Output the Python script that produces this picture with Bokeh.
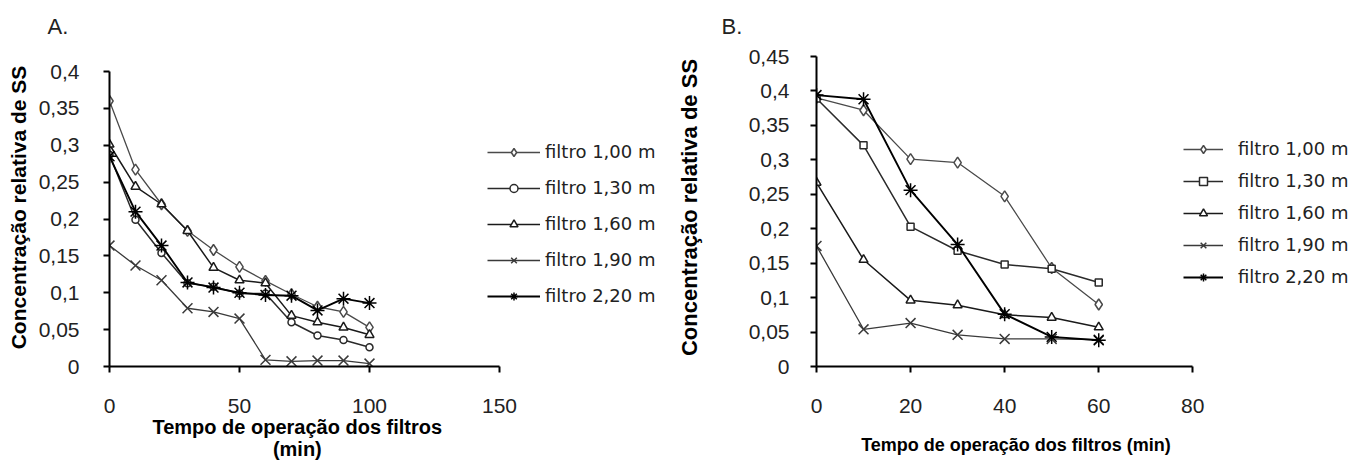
from bokeh.plotting import figure
from bokeh.layouts import row
from bokeh.models import Range1d, FixedTicker, Legend, LegendItem
from bokeh.embed import file_html
from bokeh.resources import INLINE

# ---------------- data ----------------
SERIES_NAMES = ["filtro 1,00 m", "filtro 1,30 m", "filtro 1,60 m", "filtro 1,90 m", "filtro 2,20 m"]

# Chart A
T_A = [0, 10, 20, 30, 40, 50, 60, 70, 80, 90, 100]
A_100 = [0.360, 0.267, 0.220, 0.184, 0.158, 0.135, 0.116, 0.098, 0.081, 0.074, 0.053]
A_130 = [0.287, 0.199, 0.154, 0.113, 0.108, 0.099, 0.099, 0.060, 0.042, 0.036, 0.026]
A_160 = [0.301, 0.244, 0.220, 0.184, 0.134, 0.117, 0.113, 0.069, 0.060, 0.053, 0.043]
A_190 = [0.164, 0.137, 0.117, 0.079, 0.074, 0.065, 0.009, 0.007, 0.008, 0.008, 0.004]
A_220 = [0.285, 0.210, 0.164, 0.114, 0.107, 0.100, 0.097, 0.096, 0.076, 0.092, 0.086]

# Chart B
T_B = [0, 10, 20, 30, 40, 50, 60]
B_100 = [0.390, 0.372, 0.301, 0.296, 0.247, 0.143, 0.090]
B_130 = [0.389, 0.321, 0.203, 0.168, 0.148, 0.142, 0.122]
B_160 = [0.267, 0.155, 0.096, 0.089, 0.075, 0.071, 0.057]
B_190 = [0.175, 0.054, 0.063, 0.046, 0.040, 0.040, 0.039]
B_220 = [0.394, 0.388, 0.256, 0.177, 0.076, 0.043, 0.038]

X_TICKS_A = [0, 50, 100, 150]
Y_TICKS_A = [0, 0.05, 0.1, 0.15, 0.2, 0.25, 0.3, 0.35, 0.4]
Y_LABELS_A = ["0", "0,05", "0,1", "0,15", "0,2", "0,25", "0,3", "0,35", "0,4"]
X_TICKS_B = [0, 20, 40, 60, 80]
Y_TICKS_B = [0, 0.05, 0.1, 0.15, 0.2, 0.25, 0.3, 0.35, 0.4, 0.45]
Y_LABELS_B = ["0", "0,05", "0,1", "0,15", "0,2", "0,25", "0,3", "0,35", "0,4", "0,45"]

TITLE_A = "A."
TITLE_B = "B."
Y_TITLE = "Concentração relativa de SS"
X_TITLE_A = ["Tempo de operação dos filtros", "(min)"]
X_TITLE_B = ["Tempo de operação dos filtros (min)"]

# ---------------- styles ----------------
STYLES = [
    dict(marker="diamond", size=11, fill="white", color="#4a4a4a", lw=1.3),
    dict(marker="square", size=7, fill="white", color="#2a2a2a", lw=1.5),
    dict(marker="triangle", size=9, fill="white", color="#1a1a1a", lw=1.5),
    dict(marker="x", size=14, fill="white", color="#3a3a3a", lw=1.3),
    dict(marker="asterisk", size=14, fill="black", color="#000000", lw=1.9),
]

FONT = "Liberation Sans"
LEG_FONT = "DejaVu Sans"
FIG_H = 462
FRAME_TOP = 48
FRAME_BOTTOM = 366
RIGHT_BORDER = 5
NBSP = "\u00a0"


def make_fig(fig_w, t, series, x_axis_end, y_axis_end, axis_px_x, axis_top_px,
             xticks, yticks, ylabels, title, xtitle_lines,
             frame_left, title_offset, legend_loc, legend_spacing, glyph_w,
             label_standoff, marker_variant, xlabel_standoff, ylabel_standoff,
             ytick_standoff, xtitle_size, ytitle_size, xtitle_center):
    frame_w = fig_w - frame_left - RIGHT_BORDER
    frame_h = FRAME_BOTTOM - FRAME_TOP
    # frame is larger than the drawn axes so that the legend can sit beside the data
    x_end = x_axis_end * frame_w / axis_px_x
    y_end = y_axis_end * frame_h / (FRAME_BOTTOM - axis_top_px)
    p = figure(width=fig_w, height=FIG_H, x_range=Range1d(0, x_end), y_range=Range1d(0, y_end),
               output_backend="svg", toolbar_location=None,
               min_border_left=frame_left, min_border_right=RIGHT_BORDER,
               min_border_top=FRAME_TOP, min_border_bottom=FIG_H - FRAME_BOTTOM)
    p.outline_line_color = None
    p.xgrid.visible = False
    p.ygrid.visible = False
    p.background_fill_color = "white"
    p.border_fill_color = "white"

    p.title.text = title
    p.title.align = "left"
    p.title.offset = title_offset
    p.title.text_font = FONT
    p.title.text_font_size = "22px"
    p.title.text_font_style = "normal"
    p.title.text_color = "#222222"
    p.title.standoff = 20

    for ax in (p.xaxis[0], p.yaxis[0]):
        ax.axis_line_color = "black"
        ax.axis_line_width = 2
        ax.major_tick_line_color = "black"
        ax.major_tick_line_width = 2
        ax.major_tick_out = 6
        ax.major_tick_in = 0
        ax.minor_tick_line_color = None
        ax.major_label_text_font = FONT
        ax.major_label_text_font_size = "21px"
        ax.major_label_text_color = "#222222"
        ax.axis_label_text_font = FONT
        ax.axis_label_text_font_style = "bold"
        ax.axis_label_text_color = "black"
        ax.axis_label_text_line_height = 1.0

    p.xaxis[0].bounds = (0, x_axis_end)
    p.yaxis[0].bounds = (0, y_axis_end)
    p.xaxis[0].ticker = FixedTicker(ticks=xticks)
    p.yaxis[0].ticker = FixedTicker(ticks=yticks)
    p.yaxis[0].major_label_overrides = {v: s for v, s in zip(yticks, ylabels)}
    p.xaxis[0].major_label_standoff = 26
    p.yaxis[0].major_label_standoff = ytick_standoff

    # x title: centred under the drawn axis (not the wider frame) by trailing no-break spaces
    nb_w = 0.278 * xtitle_size
    frame_center = frame_left + frame_w / 2
    shift = frame_center - xtitle_center
    pad = NBSP * int(round(2 * shift / nb_w))
    p.xaxis[0].axis_label = "\n".join(line + pad for line in xtitle_lines)
    p.xaxis[0].axis_label_text_font_size = f"{xtitle_size}px"
    p.xaxis[0].axis_label_standoff = xlabel_standoff
    p.yaxis[0].axis_label = Y_TITLE
    p.yaxis[0].axis_label_text_font_size = f"{ytitle_size}px"
    p.yaxis[0].axis_label_standoff = ylabel_standoff

    items = []
    for name, y, st in zip(SERIES_NAMES, series, STYLES):
        mk = st["marker"]
        if mk == "square" and marker_variant == "A":
            mk = "circle"
        lr = p.line(t, y, line_color=st["color"], line_width=st["lw"])
        sr = p.scatter(t, y, marker=mk, size=st["size"], fill_color=st["fill"],
                       line_color=st["color"], line_width=1.5)
        items.append(LegendItem(label=name, renderers=[lr, sr]))

    leg = Legend(items=items, location=legend_loc, orientation="vertical",
                 border_line_color=None, background_fill_alpha=0,
                 padding=0, margin=0, spacing=legend_spacing,
                 glyph_width=glyph_w, glyph_height=20, label_height=20,
                 label_standoff=label_standoff,
                 label_text_font=LEG_FONT, label_text_font_size="18px",
                 label_text_color="#222222")
    p.add_layout(leg)
    return p


pA = make_fig(673, T_A, [A_100, A_130, A_160, A_190, A_220], 150, 0.4, 390, 71,
              X_TICKS_A, Y_TICKS_A, Y_LABELS_A, TITLE_A, X_TITLE_A,
              109, -62, (378, 60), 15, 53, 5, "A", 0, 6, 24, 20, 21, 298)

pB = make_fig(687, T_B, [B_100, B_130, B_160, B_190, B_220], 80, 0.45, 377, 56,
              X_TICKS_B, Y_TICKS_B, Y_LABELS_B, TITLE_B, X_TITLE_B,
              142, -95, (367, 79), 11, 40, 15, "B", 19, 44, 21, 18, 22, 341)

layout = row(pA, pB)
open("out.html", "w").write(file_html(layout, INLINE))
